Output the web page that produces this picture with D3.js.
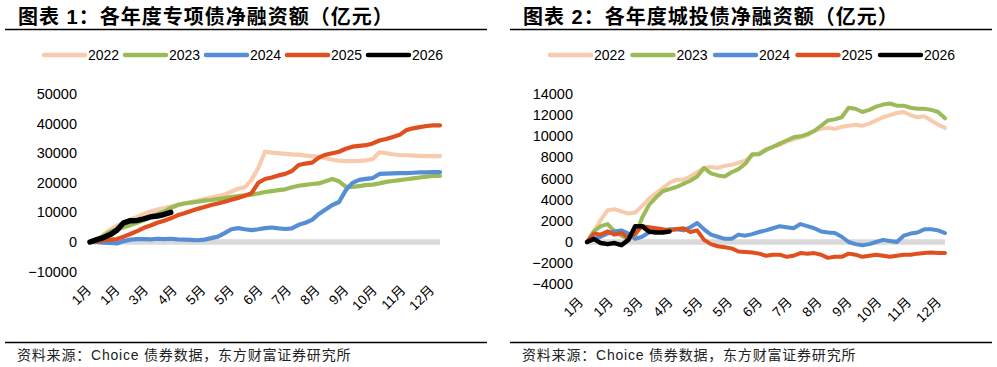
<!DOCTYPE html>
<html><head><meta charset="utf-8">
<script src="https://cdnjs.cloudflare.com/ajax/libs/d3/7.8.5/d3.min.js"></script>
<style>
html,body{margin:0;padding:0;background:#fff;}
svg{display:block;}
</style></head>
<body>
<script>
// ---------------- DATA ----------------
const years = ["2022","2023","2024","2025","2026"];
const colors = ["#F8CBAD","#9BBB59","#558ED5","#E04F1E","#000000"];
const xLabels = ["1月","1月","3月","4月","5月","5月","6月","7月","8月","9月","10月","11月","12月"];

// Chart 1: 专项债 net financing (亿元), weekly points
const zx2022 = [0,800,2500,4200,5500,6500,7600,8500,9500,10300,11000,11500,12000,12500,13000,13500,14000,14500,15000,15500,16000,17000,18000,18500,21000,25000,30500,30200,30000,29800,29600,29500,29200,29000,28800,28300,27800,27500,27300,27300,27400,27600,28000,30300,30000,29600,29400,29300,29200,29100,29000,29000,29000];
const zx2023 = [0,500,2000,3500,4200,5000,5700,6500,7400,8500,9500,10300,11500,12500,13000,13300,13600,14000,14200,14500,14800,15200,15500,15800,16000,16400,16900,17200,17500,17800,18500,19000,19300,19600,19800,20500,21300,20500,18700,18600,18900,19200,19400,19800,20300,20600,20900,21200,21500,21800,22100,22300,22300];
const zx2024 = [0,0,-200,-300,-500,300,800,1000,1000,900,1100,1000,1100,900,800,700,600,800,1300,1800,3000,4300,4700,4300,4000,4300,4700,4900,4600,4400,4600,5800,6500,7500,9500,11000,12500,13500,17500,20000,21000,21300,21600,23000,23100,23200,23300,23300,23400,23500,23500,23600,23600];
const zx2025 = [0,300,600,800,1000,1800,2700,3700,4800,5600,6500,7200,8000,9000,9700,10500,11200,11800,12500,13000,13600,14300,14900,15600,16500,20000,21300,21800,22500,23000,24000,26000,26500,26800,28500,29500,30000,30500,31500,32200,32500,32700,33300,34300,34800,35500,36200,37800,38400,38800,39200,39400,39400];
const zx2026 = [0,800,1500,2500,4000,6500,7200,7300,7800,8500,8800,9300,10000];
const zxTicks = [-10000,0,10000,20000,30000,40000,50000];

// Chart 2: 城投债 net financing (亿元), weekly points
const ct2022 = [0,1000,2100,3000,3100,2900,2700,2800,3400,4100,4600,5100,5600,5900,5900,6200,6600,7000,7100,7000,7200,7300,7500,7700,8200,8400,8800,9000,9200,9500,9700,9900,10100,10500,10700,10800,10700,10900,11000,11100,11000,11200,11500,11800,12000,12200,12300,12000,11800,11900,11500,11100,10800];
const ct2023 = [0,1000,1500,1700,1000,600,300,600,2300,3500,4200,4800,5000,5200,5500,5800,6200,7000,6500,6300,6200,6600,6900,7400,8300,8300,8700,9000,9300,9600,9900,10000,10200,10500,11000,11500,11600,11800,12700,12600,12300,12500,12800,13000,13100,12900,12900,12700,12600,12600,12500,12300,11700];
const ct2024 = [0,300,500,800,1000,1100,800,300,500,900,1000,1100,1200,1200,1100,1400,1800,1200,700,500,300,300,700,600,750,950,1100,1300,1500,1400,1300,1700,1500,1300,1000,900,850,500,0,-200,-300,-200,0,200,100,0,600,800,900,1200,1200,1100,850];
const ct2025 = [0,800,700,1000,700,850,400,800,1500,1400,1300,1200,1100,1200,1300,950,1100,200,-200,-400,-500,-600,-900,-950,-1000,-1100,-1300,-1200,-1200,-1400,-1300,-1050,-1100,-1050,-1200,-1500,-1400,-1400,-1100,-1200,-1400,-1300,-1200,-1300,-1400,-1300,-1200,-1200,-1100,-1050,-1000,-1050,-1050];
const ct2026 = [0,300,-100,-200,-100,-300,200,1500,1500,1000,900,900,1000];
const ctTicks = [-4000,-2000,0,2000,4000,6000,8000,10000,12000,14000];

// ---------------- DRAW ----------------
const W = 997, H = 367;
const svg = d3.select("body").append("svg").attr("width", W).attr("height", H)
  .style("background", "#fff");

const latin = "'Liberation Sans', Arial, 'Noto Sans CJK SC', sans-serif";

function drawChart(cfg) {
  const g = svg.append("g");
  // title
  g.append("text").attr("x", cfg.titleX).attr("y", 24)
    .attr("font-family", latin).attr("font-weight", "bold").attr("font-size", 20)
    .attr("letter-spacing", 1).attr("fill", "#000").text(cfg.title);
  g.append("line").attr("x1", cfg.rule[0]).attr("x2", cfg.rule[1])
    .attr("y1", 29.5).attr("y2", 29.5).attr("stroke", "#000").attr("stroke-width", 1.3);
  // bottom rule + source
  g.append("line").attr("x1", cfg.rule[0]).attr("x2", cfg.rule[1])
    .attr("y1", 342.5).attr("y2", 342.5).attr("stroke", "#000").attr("stroke-width", 1.3);
  g.append("text").attr("x", cfg.sourceX).attr("y", 360)
    .attr("font-family", latin).attr("font-size", 14).attr("fill", "#222")
    .attr("letter-spacing", 0.8)
    .text("资料来源：Choice 债券数据，东方财富证券研究所");

  const x = d3.scaleLinear().domain([0, 52]).range([cfg.x0, cfg.x1]);
  const y = d3.scaleLinear().domain(cfg.yDomain).range(cfg.yRange);

  // y tick labels
  const fmt = d3.format("d");
  g.selectAll(".yt").data(cfg.ticks).enter().append("text")
    .attr("x", cfg.yLabelRight).attr("y", d => y(d) + 5)
    .attr("text-anchor", "end").attr("font-family", latin).attr("font-size", 14.5)
    .attr("fill", "#000").text(d => fmt(d).replace("-", "\u2212"));

  // zero band
  g.append("line").attr("x1", x(0)).attr("x2", x(52))
    .attr("y1", y(0)).attr("y2", y(0)).attr("stroke", "#D9D9D9").attr("stroke-width", 5.5);

  // x labels
  const xl = d3.scalePoint().domain(d3.range(xLabels.length)).range(cfg.xLabelRange);
  g.selectAll(".xl").data(xLabels).enter().append("text")
    .attr("transform", (d, i) => `translate(${xl(i)},${cfg.xLabelY}) rotate(-45)`)
    .attr("text-anchor", "end").attr("font-family", latin).attr("font-size", 13.5)
    .attr("fill", "#000").text(d => d);

  // lines
  const line = d3.line().x((d, i) => x(i)).y(d => y(d)).curve(d3.curveLinear);
  cfg.series.forEach((s, i) => {
    g.append("path").datum(s).attr("d", line).attr("fill", "none")
      .attr("stroke", colors[i]).attr("stroke-width", i === 4 ? cfg.blackW : cfg.lineW)
      .attr("stroke-linejoin", "round").attr("stroke-linecap", "round");
  });

  // legend
  years.forEach((yr, i) => {
    const lx = cfg.legendX + i * cfg.legendStep;
    g.append("line").attr("x1", lx).attr("x2", lx + 41).attr("y1", 55).attr("y2", 55)
      .attr("stroke", colors[i]).attr("stroke-width", 4.5).attr("stroke-linecap", "round");
    g.append("text").attr("x", lx + 44).attr("y", 60)
      .attr("font-family", latin).attr("font-size", 14).attr("fill", "#000").text(yr);
  });
}

drawChart({
  title: "图表 1：各年度专项债净融资额（亿元）",
  titleX: 18, rule: [5, 487], sourceX: 17,
  x0: 90, x1: 440,
  yDomain: [-10000, 50000], yRange: [271.6, 94],
  ticks: zxTicks, yLabelRight: 77,
  xLabelRange: [92, 435], xLabelY: 291,
  series: [zx2022, zx2023, zx2024, zx2025, zx2026],
  lineW: 4.2, blackW: 5.5,
  legendX: 44, legendStep: 81
});

drawChart({
  title: "图表 2：各年度城投债净融资额（亿元）",
  titleX: 523, rule: [510, 992], sourceX: 522,
  x0: 587, x1: 945,
  yDomain: [-4000, 14000], yRange: [284.3, 94],
  ticks: ctTicks, yLabelRight: 573,
  xLabelRange: [584, 942], xLabelY: 303,
  series: [ct2022, ct2023, ct2024, ct2025, ct2026],
  lineW: 4, blackW: 4.5,
  legendX: 550, legendStep: 82.5
});
</script>
</body></html>
